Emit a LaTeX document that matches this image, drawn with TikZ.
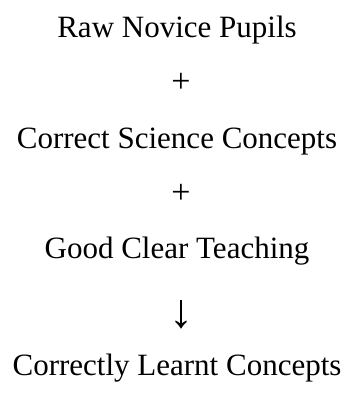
\documentclass[tikz,border=0pt]{standalone}
\usepackage{fontspec}
\setmainfont{Liberation Serif}
\begin{document}
\begin{tikzpicture}[x=1pt,y=-1pt,
  txt/.style={anchor=base,inner sep=0pt,font=\fontsize{31}{36}\selectfont},
  plus/.style={txt,font=\fontsize{34}{38}\selectfont}]
\useasboundingbox (0,0) rectangle (353,394);
\node[txt] (a) at (177,37) {Raw Novice Pupils};
\node[plus] (p1) at (181,92) {+};
\node[txt] (b) at (177,148) {Correct Science Concepts};
\node[plus] (p2) at (181,203) {+};
\node[txt] (c) at (177,258) {Good Clear Teaching};
\node[txt,font=\fontsize{48}{52}\selectfont] (ar) at (181,327) {↓};
\node[txt] (d) at (177,375) {Correctly Learnt Concepts};
\end{tikzpicture}
\end{document}
